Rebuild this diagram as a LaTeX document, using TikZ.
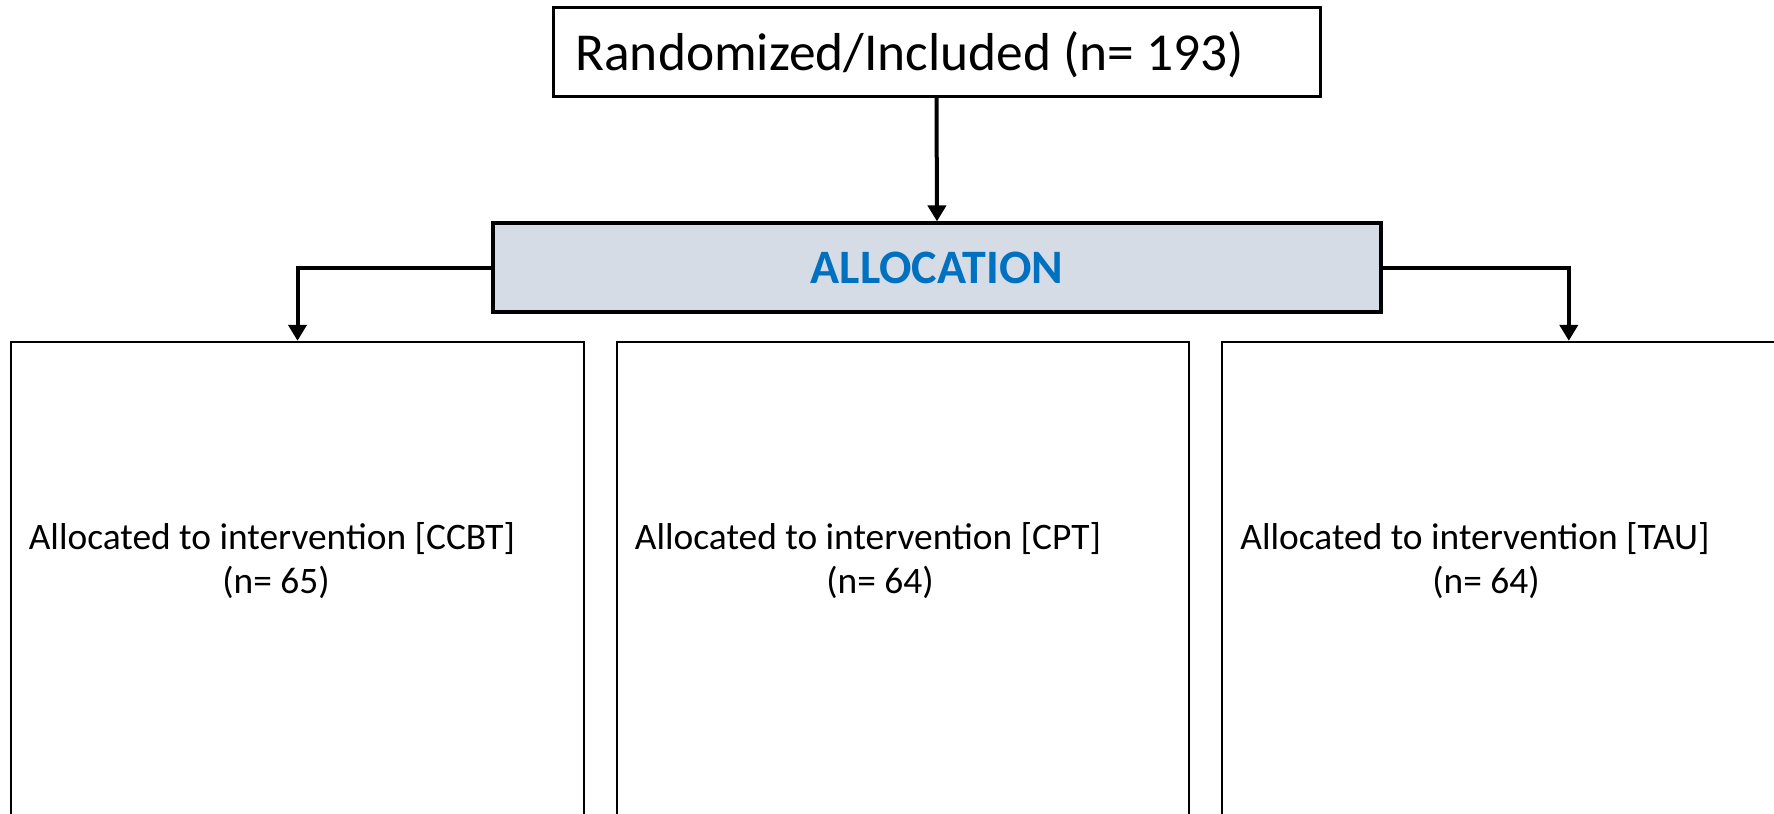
\documentclass[tikz,border=0pt]{standalone}
\usepackage{fontspec}
\setmainfont{Carlito}
\usetikzlibrary{arrows.meta}
\definecolor{allocfill}{HTML}{D6DCE5}
\definecolor{allocblue}{HTML}{0070C0}
\tikzset{
  boxa/.style={draw=black, line width=1.5pt, fill=white, inner sep=0pt},
  boxalloc/.style={draw=black, line width=1.6pt, fill=allocfill, inner sep=0pt},
  boxarm/.style={draw=black, line width=1.2pt, fill=white, inner sep=0pt},
  txt/.style={inner sep=0pt, font=\fontsize{18.7pt}{22pt}\selectfont},
  conn/.style={line width=2pt, -{Triangle[width=9pt,length=8pt]}}
}
\begin{document}
\begin{tikzpicture}[x=0.5pt,y=-0.5pt]
\useasboundingbox (0,0) rectangle (1774,814);
\begin{scope}
\clip (0,0) rectangle (1774,814);
\node[boxa, minimum width=383.5pt, minimum height=44.5pt] (top) at (936.5,51.5) {};
\node[inner sep=0pt, anchor=base west, font=\fontsize{26.7pt}{32pt}\selectfont] (toptext) at (575,70) {Randomized/Included (n= 193)};
\node[boxalloc, minimum width=444pt, minimum height=44.5pt, text=allocblue, font=\fontsize{24pt}{28pt}\selectfont\bfseries] (alloc) at (937,267.5) {ALLOCATION};
\node[boxarm, minimum width=286.5pt, minimum height=254pt] (left) at (297.5,596) {};
\node[boxarm, minimum width=286pt, minimum height=254pt] (mid) at (903,596) {};
\node[boxarm, minimum width=289pt, minimum height=254pt] (right) at (1511,596) {};
\node[txt, anchor=base] (l1) at (272,549.5) {Allocated to intervention [CCBT]};
\node[txt, anchor=base] (l2) at (276,593) {(n= 65)};
\node[txt, anchor=base] (m1) at (868,549.5) {Allocated to intervention [CPT]};
\node[txt, anchor=base] (m2) at (880,593) {(n= 64)};
\node[txt, anchor=base] (r1) at (1475,549.5) {Allocated to intervention [TAU]};
\node[txt, anchor=base] (r2) at (1486,593) {(n= 64)};
\draw[conn] (top.south) -- (alloc.north);
\draw[conn] (alloc.west) -| (left.north);
\draw[conn] (alloc.east) -| ([xshift=174pt]right.north west);
\end{scope}
\end{tikzpicture}
\end{document}
